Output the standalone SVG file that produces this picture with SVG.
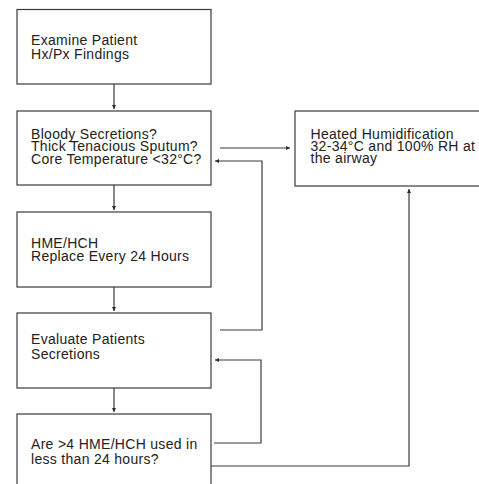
<svg xmlns="http://www.w3.org/2000/svg" width="479" height="484" viewBox="0 0 479 484">
<style>
.box{fill:#fff;stroke:#3a3a3a;stroke-width:1.2}
.t{font-family:"Liberation Sans",Arial,sans-serif;font-size:14px;letter-spacing:0.3px;fill:#222}
.c{fill:none;stroke:#3a3a3a;stroke-width:1.2}
</style>
<defs>
<marker id="ah" viewBox="0 0 10 10" refX="10" refY="5" markerWidth="4" markerHeight="4" markerUnits="userSpaceOnUse" orient="auto">
<path d="M0,0 L10,5 L0,10 Z" fill="#2a2a2a"/>
</marker>
</defs>
<rect width="479" height="484" fill="#fff"/>
<g id="n1">
<rect class="box" x="17" y="9.5" width="194" height="74.5"/>
<text class="t"><tspan x="31" y="45">Examine Patient</tspan><tspan x="31" y="58.5">Hx/Px Findings</tspan></text>
</g>
<g id="n2">
<rect class="box" x="17" y="111" width="194" height="74"/>
<text class="t"><tspan x="31" y="138.5">Bloody Secretions?</tspan><tspan x="31" y="151">Thick Tenacious Sputum?</tspan><tspan x="31" y="163.5">Core Temperature &lt;32°C?</tspan></text>
</g>
<g id="n3">
<rect class="box" x="17" y="212" width="194" height="75"/>
<text class="t"><tspan x="31" y="247.5">HME/HCH</tspan><tspan x="31" y="260.5">Replace Every 24 Hours</tspan></text>
</g>
<g id="n4">
<rect class="box" x="17" y="313" width="194" height="75"/>
<text class="t"><tspan x="31" y="344">Evaluate Patients</tspan><tspan x="31" y="358.5">Secretions</tspan></text>
</g>
<g id="n5">
<rect class="box" x="17" y="414" width="194" height="80"/>
<text class="t"><tspan x="31" y="449">Are &gt;4 HME/HCH used in</tspan><tspan x="31" y="463.5">less than 24 hours?</tspan></text>
</g>
<g id="n6">
<rect class="box" x="295" y="111" width="200" height="75"/>
<text class="t"><tspan x="310.5" y="139.3">Heated Humidification</tspan><tspan x="310.5" y="151.2">32-34°C and 100% RH at</tspan><tspan x="310.5" y="162.8">the airway</tspan></text>
</g>
<g id="connectors">
<path class="c" d="M114,84 V109" marker-end="url(#ah)"/>
<path class="c" d="M114,185 V210" marker-end="url(#ah)"/>
<path class="c" d="M114,287 V311" marker-end="url(#ah)"/>
<path class="c" d="M114,388 V412" marker-end="url(#ah)"/>
<path class="c" d="M220,148 H290" marker-end="url(#ah)"/>
<path class="c" d="M220,330 H262 V161 H215" marker-end="url(#ah)"/>
<path class="c" d="M214,443 H261 V360 H215" marker-end="url(#ah)"/>
<path class="c" d="M211,466 H409 V189" marker-end="url(#ah)"/>
</g>
</svg>
